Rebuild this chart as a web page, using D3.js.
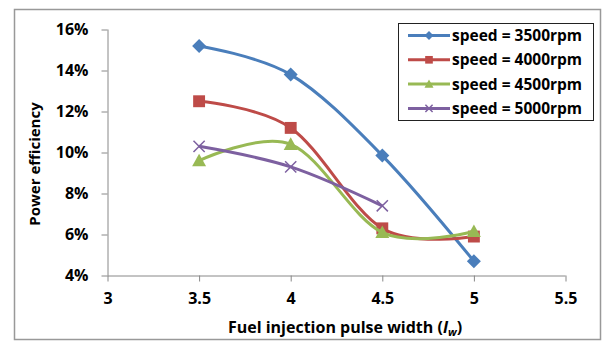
<!DOCTYPE html>
<html>
<head>
<meta charset="utf-8">
<script src="https://cdn.jsdelivr.net/npm/d3@7"></script>
<style>
  body { margin: 0; background: #fff; }
  text { font-family: "Open Sans", "Liberation Sans", sans-serif; font-weight: bold; fill: #000; }
</style>
</head>
<body>
<svg id="chart" width="602" height="342"></svg>
<script>
// data
const widths = [3.5, 4, 4.5, 5];
const s3500 = [15.2, 13.8, 9.85, 4.7];
const s4000 = [12.5, 11.2, 6.3, 5.9];
const s4500 = [9.6, 10.4, 6.1, 6.15];
const s5000 = [10.3, 9.3, 7.4];
const seriesNames = ['speed = 3500rpm', 'speed = 4000rpm', 'speed = 4500rpm', 'speed = 5000rpm'];
const xTicks = [3, 3.5, 4, 4.5, 5, 5.5];
const yTicks = [4, 6, 8, 10, 12, 14, 16];

const series = [
  { name: seriesNames[0], vals: s3500, color: '#4A7EBB', marker: 'diamond' },
  { name: seriesNames[1], vals: s4000, color: '#BE4B48', marker: 'square' },
  { name: seriesNames[2], vals: s4500, color: '#98B954', marker: 'triangle' },
  { name: seriesNames[3], vals: s5000, color: '#7D60A0', marker: 'cross' }
];

const svg = d3.select('#chart');

// outer frame
svg.append('rect')
  .attr('x', 14.5).attr('y', 9.5)
  .attr('width', 586).attr('height', 330)
  .attr('fill', '#fff')
  .attr('stroke', '#999').attr('stroke-width', 1.5);

const x = d3.scaleLinear().domain([3, 5.5]).range([107.5, 565.5]);
const y = d3.scaleLinear().domain([4, 16]).range([275.5, 29.5]);

// axes
const yAxis = svg.append('g')
  .attr('transform', 'translate(107.5,0)')
  .call(d3.axisLeft(y).tickValues(yTicks).tickSize(6).tickPadding(13).tickFormat(d => d + '%'));
const xAxis = svg.append('g')
  .attr('transform', 'translate(0,275.5)')
  .call(d3.axisBottom(x).tickValues(xTicks).tickSize(6).tickPadding(11).tickFormat(d3.format('')));

[xAxis, yAxis].forEach(g => {
  g.select('.domain').attr('stroke', '#888').attr('stroke-width', 1);
  g.selectAll('.tick line').attr('stroke', '#888');
  g.selectAll('.tick text').style('font-size', '16px').attr('fill', '#000');
});
yAxis.select('.domain').attr('d', 'M0.5,29.5V275.5');
xAxis.select('.domain').attr('d', 'M107.5,0.5H565.5');

// axis titles
svg.append('text')
  .attr('transform', 'translate(40,164) rotate(-90)')
  .attr('text-anchor', 'middle')
  .style('font-size', '15px')
  .text('Power efficiency');

const xt = svg.append('text')
  .attr('x', 345).attr('y', 333)
  .attr('text-anchor', 'middle')
  .style('font-size', '16px');
xt.append('tspan').text('Fuel injection pulse width (');
xt.append('tspan').style('font-style', 'italic').text('I');
xt.append('tspan').style('font-style', 'italic').style('font-size', '11px').attr('dy', 3).text('w');
xt.append('tspan').attr('dy', -3).text(')');

// markers
function drawMarker(g, type, color, cx, cy, s) {
  if (type === 'diamond') {
    g.append('path').attr('d', `M${cx},${cy - s}L${cx + s},${cy}L${cx},${cy + s}L${cx - s},${cy}Z`)
      .attr('fill', color);
  } else if (type === 'square') {
    g.append('rect').attr('x', cx - s * 0.85).attr('y', cy - s * 0.85)
      .attr('width', s * 1.7).attr('height', s * 1.7).attr('fill', color);
  } else if (type === 'triangle') {
    g.append('path').attr('d', `M${cx},${cy - s}L${cx + s},${cy + s * 0.8}L${cx - s},${cy + s * 0.8}Z`)
      .attr('fill', color);
  } else {
    const c = s * 0.8;
    g.append('path').attr('d', `M${cx - c},${cy - c}L${cx + c},${cy + c}M${cx - c},${cy + c}L${cx + c},${cy - c}`)
      .attr('stroke', color).attr('stroke-width', 1.5).attr('fill', 'none');
  }
}

const line = d3.line()
  .x(d => x(d[0]))
  .y(d => y(d[1]))
  .curve(d3.curveCatmullRom.alpha(0));

series.forEach(s => {
  const pts = s.vals.map((v, i) => [widths[i], v]);
  const g = svg.append('g');
  g.append('path').datum(pts)
    .attr('d', line)
    .attr('fill', 'none')
    .attr('stroke', s.color)
    .attr('stroke-width', 3);
  pts.forEach(p => drawMarker(g, s.marker, s.color, x(p[0]), y(p[1]), 7));
});

// legend
const lg = svg.append('g');
lg.append('rect')
  .attr('x', 398.5).attr('y', 23.5)
  .attr('width', 195).attr('height', 97)
  .attr('fill', '#fff').attr('stroke', '#222').attr('stroke-width', 1);
series.forEach((s, i) => {
  const ly = 35.5 + i * 24.3;
  lg.append('line')
    .attr('x1', 408).attr('x2', 450)
    .attr('y1', ly).attr('y2', ly)
    .attr('stroke', s.color).attr('stroke-width', 3);
  drawMarker(lg, s.marker, s.color, 429, ly, 4.5);
  lg.append('text')
    .attr('x', 452).attr('y', ly + 5.5)
    .style('font-size', '15.5px')
    .text(s.name);
});
</script>
</body>
</html>
